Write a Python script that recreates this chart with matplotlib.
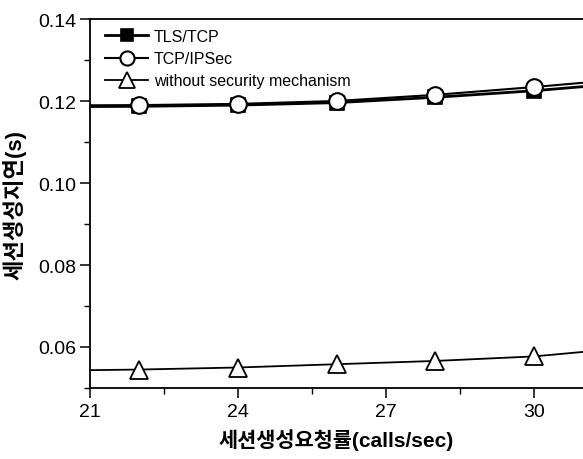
import matplotlib
matplotlib.use("Agg")
import matplotlib.pyplot as plt
from matplotlib.ticker import MultipleLocator

plt.rcParams['font.family'] = ['Liberation Sans', 'Noto Sans CJK KR', 'DejaVu Sans']

# Data
x = [20, 22, 24, 26, 28, 30, 32]
tls_tcp = [0.1186, 0.1187, 0.1190, 0.1196, 0.1209, 0.1225, 0.1245]
tcp_ipsec = [0.1189, 0.1190, 0.1193, 0.1200, 0.1215, 0.1234, 0.1255]
no_sec = [0.0542, 0.0545, 0.0550, 0.0558, 0.0566, 0.0577, 0.0599]
labels = ['TLS/TCP', 'TCP/IPSec', 'without security mechanism']
xlabel = '세션생성요청률(calls/sec)'
ylabel = '세션생성지연(s)'

fig = plt.figure(figsize=(5.83, 4.60), dpi=100)
ax = fig.add_axes([90/583, 71/460, 493/583, 369/460])

ax.plot(x, tls_tcp, color='black', lw=2.0, marker='s', ms=10,
        mfc='black', mec='black', mew=1.2, label=labels[0], zorder=3)
ax.plot(x, tcp_ipsec, color='black', lw=1.5, marker='o', ms=12,
        mfc='white', mec='black', mew=1.5, label=labels[1], zorder=4)
ax.plot(x, no_sec, color='black', lw=1.3, marker='^', ms=13,
        mfc='white', mec='black', mew=1.3, label=labels[2], zorder=3)

ax.set_xlim(21, 31)
ax.set_ylim(0.05, 0.14)
ax.xaxis.set_major_locator(MultipleLocator(3))
ax.xaxis.set_minor_locator(MultipleLocator(1.5))
ax.yaxis.set_major_locator(MultipleLocator(0.02))
ax.yaxis.set_minor_locator(MultipleLocator(0.01))
ax.yaxis.set_major_formatter(matplotlib.ticker.FormatStrFormatter('%.2f'))

ax.spines['right'].set_visible(False)
for s in ['left', 'bottom', 'top']:
    ax.spines[s].set_linewidth(1.3)

ax.tick_params(axis='both', which='major', direction='out', length=7, width=1.1,
               labelsize=14)
ax.tick_params(axis='y', which='major', pad=3)
ax.tick_params(axis='x', which='major', pad=4)
ax.tick_params(axis='both', which='minor', direction='out', length=4, width=1.0)
ax.tick_params(top=False, right=False, which='both')

ax.set_xlabel(xlabel, fontsize=15, fontweight='bold', labelpad=6)
ax.set_ylabel(ylabel, fontsize=16, fontweight='bold', labelpad=8)

leg = ax.legend(loc='upper left', bbox_to_anchor=(15/493, 1 - 10/369),
                frameon=False, fontsize=11.5, borderpad=0, borderaxespad=0,
                handlelength=2.7, handletextpad=0.35, labelspacing=0.45,
                markerscale=0.85)

fig.savefig('out.png', dpi=100)
